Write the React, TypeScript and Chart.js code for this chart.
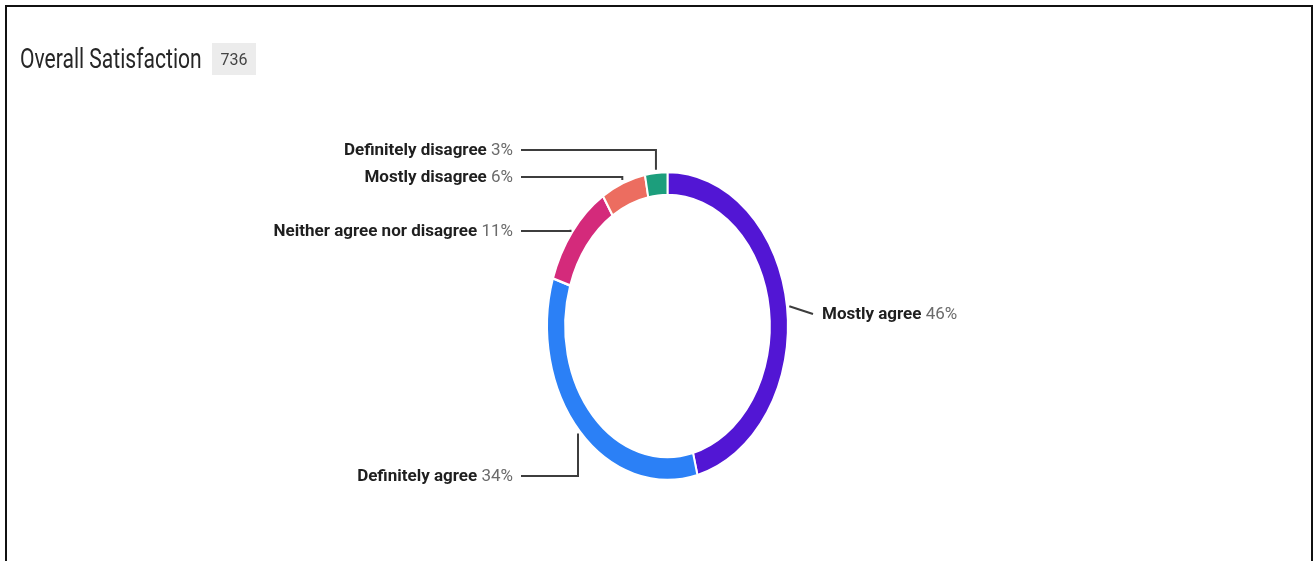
import React, { useEffect, useRef } from 'react';
import { Chart, registerables } from 'chart.js';

Chart.register(...registerables);

const TITLE = 'Overall Satisfaction';
const RESPONSES = '736';
const categories = [
  'Mostly agree',
  'Definitely agree',
  'Neither agree nor disagree',
  'Mostly disagree',
  'Definitely disagree',
];
const percentages = [46, 34, 11, 6, 3];
const colors = ['#5216d4', '#2b80f6', '#d42a7b', '#ec6d60', '#1c9e7c'];

// horizontal squeeze of the ring (it is drawn as an ellipse in the reference)
const SX = 0.782;
// label rows: side + text row y (layout config, not data)
const labelLayout = [
  { side: 'right', y: 314 },
  { side: 'left', y: 476 },
  { side: 'left', y: 231 },
  { side: 'left', y: 177 },
  { side: 'left', y: 150 },
];
const LEFT_TEXT_RIGHT = 513;
const RIGHT_TEXT_LEFT = 822;

const ellipseLabelsPlugin = {
  id: 'ellipseLabels',
  beforeDatasetsDraw(chart: any) {
    const meta = chart.getDatasetMeta(0);
    const a = meta.data[0];
    const ctx = chart.ctx;
    ctx.save();
    ctx.translate(a.x, a.y);
    ctx.scale(SX, 1);
    ctx.translate(-a.x, -a.y);
  },
  afterDatasetsDraw(chart: any) {
    const ctx = chart.ctx;
    ctx.restore();
    const meta = chart.getDatasetMeta(0);
    const nameFont = 'bold 17px Roboto';
    const pctFont = '17px Roboto';
    meta.data.forEach((arc: any, i: number) => {
      const p = arc.getProps(['x', 'y', 'startAngle', 'endAngle', 'outerRadius'], true);
      const mid = (p.startAngle + p.endAngle) / 2;
      const gap = 3;
      const px = p.x + Math.cos(mid) * (p.outerRadius + gap) * SX;
      const py = p.y + Math.sin(mid) * (p.outerRadius + gap);
      const lay = labelLayout[i];
      const name = categories[i];
      const pct = percentages[i] + '%';
      ctx.save();
      ctx.strokeStyle = '#3d3d3d';
      ctx.lineWidth = 2;
      ctx.beginPath();
      if (lay.side === 'left') {
        ctx.moveTo(LEFT_TEXT_RIGHT + 8, lay.y);
        ctx.lineTo(px, lay.y);
        ctx.lineTo(px, py);
      } else {
        ctx.moveTo(px, py);
        ctx.lineTo(RIGHT_TEXT_LEFT - 9, lay.y);
      }
      ctx.stroke();
      ctx.textBaseline = 'middle';
      ctx.font = pctFont;
      const pctW = ctx.measureText(pct).width;
      const spW = ctx.measureText(' ').width;
      ctx.font = nameFont;
      const nameW = ctx.measureText(name).width;
      const tx = lay.side === 'left' ? LEFT_TEXT_RIGHT - pctW - spW - nameW : RIGHT_TEXT_LEFT;
      ctx.textAlign = 'left';
      ctx.fillStyle = '#1f1f1f';
      ctx.font = nameFont;
      ctx.fillText(name, tx, lay.y + 1);
      ctx.fillStyle = '#6b6b6b';
      ctx.font = pctFont;
      ctx.fillText(pct, tx + nameW + spW, lay.y + 1);
      ctx.restore();
    });
  },
  afterDraw(chart: any) {
    const ctx = chart.ctx;
    ctx.save();
    // title (condensed)
    ctx.translate(20, 68);
    ctx.scale(0.78, 1);
    ctx.font = '27px Roboto';
    ctx.fillStyle = '#262626';
    ctx.textBaseline = 'alphabetic';
    ctx.fillText(TITLE, 0, 0);
    ctx.restore();
    ctx.save();
    ctx.fillStyle = '#ececec';
    ctx.fillRect(212, 43, 44, 32);
    ctx.font = '16px Roboto';
    ctx.fillStyle = '#444444';
    ctx.textAlign = 'center';
    ctx.textBaseline = 'alphabetic';
    ctx.fillText(RESPONSES, 234, 65);
    ctx.restore();
  },
};

export default function App() {
  const ref = useRef<HTMLCanvasElement | null>(null);
  useEffect(() => {
    if (!ref.current) return;
    const chart = new Chart(ref.current, {
      type: 'doughnut',
      data: {
        labels: categories,
        datasets: [
          {
            data: percentages,
            backgroundColor: colors,
            borderColor: '#ffffff',
            borderWidth: 2.5,
            hoverOffset: 0,
          },
        ],
      },
      options: {
        responsive: false,
        animation: false,
        events: [],
        radius: 154,
        cutout: '85%',
        layout: { padding: { left: 19, right: 0, top: 91, bottom: 0 } },
        plugins: {
          legend: { display: false },
          tooltip: { enabled: false },
        },
      } as any,
      plugins: [ellipseLabelsPlugin],
    });
    return () => chart.destroy();
  }, []);
  return (
    <div>
      <div
        style={{
          position: 'fixed',
          left: 5,
          top: 5,
          width: 1304,
          height: 640,
          border: '2px solid #111',
          background: '#fff',
        }}
      />
      <canvas
        ref={ref}
        width={1316}
        height={561}
        style={{ position: 'fixed', left: 0, top: 0, width: 1316, height: 561, display: 'block' }}
      />
    </div>
  );
}
